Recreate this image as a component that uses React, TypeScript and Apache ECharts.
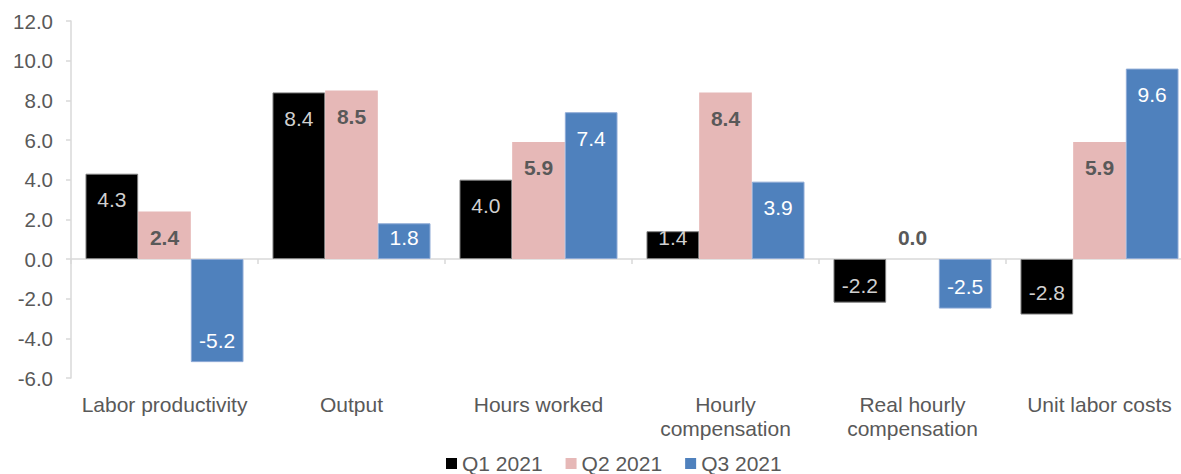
import React, { useEffect, useRef } from "react";
import * as echarts from "echarts";

const categories = [
  "Labor productivity",
  "Output",
  "Hours worked",
  "Hourly\ncompensation",
  "Real hourly\ncompensation",
  "Unit labor costs",
];
const seriesNames = ["Q1 2021", "Q2 2021", "Q3 2021"];
const q1Values = [4.3, 8.4, 4.0, 1.4, -2.2, -2.8];
const q2Values = [2.4, 8.5, 5.9, 8.4, 0.0, 5.9];
const q3Values = [-5.2, 1.8, 7.4, 3.9, -2.5, 9.6];
const yTicks = { min: -6, max: 12, interval: 2 };

const FONT = "'Liberation Sans', Arial, sans-serif";
const GREY = "#595959";
const AXIS = "#d9d9d9";

// label rule: inside end, but kept clear of the base line for short bars
function buildData(values: number[], color: string, bold: boolean) {
  const threshold = 2.42;
  return values.map((v) => {
    let position: string;
    let distance: number;
    if (v >= 0) {
      if (v > threshold) {
        position = "insideTop";
        distance = 15.5;
      } else {
        position = "insideBottom";
        distance = 11.5;
      }
    } else {
      if (-v > threshold) {
        position = "insideBottom";
        distance = 11.5;
      } else {
        position = "insideTop";
        distance = 15.5;
      }
    }
    return {
      value: v,
      label: {
        show: true,
        position,
        distance,
        color,
        fontWeight: bold ? "bold" : "normal",
        fontSize: 21,
        fontFamily: FONT,
        formatter: (p: any) => Number(p.value).toFixed(1),
      },
    };
  });
}

export default function App() {
  const ref = useRef<HTMLDivElement>(null);
  useEffect(() => {
    document.body.style.margin = "0";
    document.body.style.overflow = "hidden";
    document.documentElement.style.overflow = "hidden";
    if (!ref.current) return;
    const chart = echarts.init(ref.current, undefined, { renderer: "svg" });
    chart.setOption({
      animation: false,
      backgroundColor: "#ffffff",
      grid: { left: 71, width: 1122, top: 21, bottom: 96 },
      legend: {
        data: seriesNames,
        left: 446,
        top: 453,
        padding: 0,
        icon: "rect",
        itemWidth: 11,
        itemHeight: 11,
        itemGap: 23,
        itemStyle: { borderWidth: 0 },
        textStyle: { fontSize: 21, lineHeight: 21, color: GREY, fontFamily: FONT },
      },
      xAxis: [
        {
          type: "category",
          data: categories,
          position: "bottom",
          axisLine: { show: true, onZero: true, lineStyle: { color: AXIS, width: 1.5 } },
          axisTick: { show: true, length: 5, lineStyle: { color: AXIS, width: 1.5 } },
          axisLabel: { show: false },
        },
        {
          type: "category",
          data: categories,
          position: "bottom",
          axisLine: { show: false, onZero: false },
          axisTick: { show: false },
          axisLabel: {
            show: true,
            margin: 14,
            fontSize: 21,
            lineHeight: 24,
            color: GREY,
            fontFamily: FONT,
            interval: 0,
            align: "center",
          },
        },
      ],
      yAxis: {
        type: "value",
        min: yTicks.min,
        max: yTicks.max,
        interval: yTicks.interval,
        axisLine: { show: true, lineStyle: { color: AXIS, width: 1.5 } },
        axisTick: { show: true, length: 5, lineStyle: { color: AXIS, width: 1.5 } },
        splitLine: { show: false },
        axisLabel: {
          margin: 18,
          fontSize: 20.5,
          color: GREY,
          fontFamily: FONT,
          formatter: (v: number) => v.toFixed(1),
        },
      },
      series: [
        {
          name: seriesNames[0],
          type: "bar",
          xAxisIndex: 0,
          barGap: 0,
          barCategoryGap: "15.5%",
          itemStyle: { color: "#000000", borderColor: "#7f7f7f", borderWidth: 1 },
          data: buildData(q1Values, "#d0d0d0", false),
        },
        {
          name: seriesNames[1],
          type: "bar",
          xAxisIndex: 0,
          barGap: 0,
          barCategoryGap: "15.5%",
          itemStyle: { color: "#e6b8b7", borderWidth: 0 },
          data: buildData(q2Values, GREY, true),
        },
        {
          name: seriesNames[2],
          type: "bar",
          xAxisIndex: 0,
          barGap: 0,
          barCategoryGap: "15.5%",
          itemStyle: { color: "#4f81bd", borderColor: "#8eaad6", borderWidth: 1 },
          data: buildData(q3Values, "#ffffff", false),
        },
      ],
    });
    return () => chart.dispose();
  }, []);
  return (
    <div style={{ width: 1181, height: 474, overflow: "hidden" }}>
      <div ref={ref} style={{ width: 1200, height: 474 }} />
    </div>
  );
}
